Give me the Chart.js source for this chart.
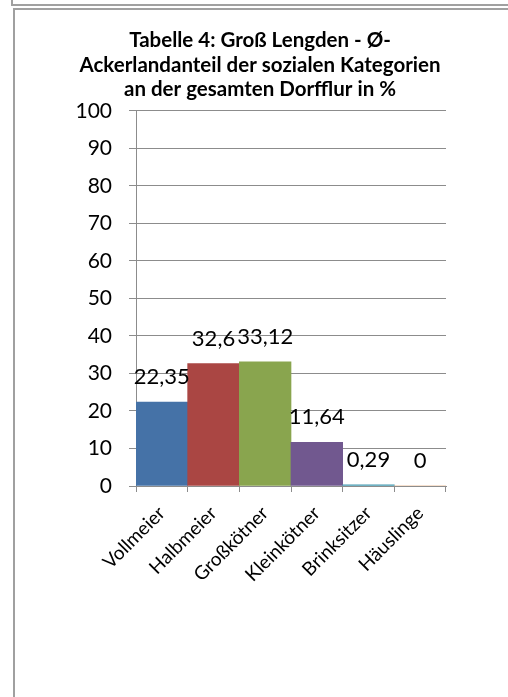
<!DOCTYPE html>
<html lang="de">
<head>
  <meta charset="UTF-8">
  <title>Tabelle 4: Groß Lengden</title>
  <style>
    html, body {
      margin: 0;
      background: #fff;
      overflow: hidden;
      width: 508px;
      height: 697px;
    }
    .frame-top {
      position: absolute;
      left: 11px;
      top: -30px;
      width: 600px;
      height: 36px;
      box-sizing: border-box;
      border: 2px solid #a0a0a0;
    }
    .frame {
      position: absolute;
      left: 13px;
      top: 8px;
      width: 600px;
      height: 800px;
      box-sizing: border-box;
      border: 2px solid #a0a0a0;
    }
    #chart {
      position: absolute;
      left: 0;
      top: 0;
    }
  </style>
  <script src="https://cdn.jsdelivr.net/npm/chart.js"></script>
</head>
<body>
  <div class="frame-top"></div>
  <div class="frame"></div>
  <canvas id="chart" width="508" height="697"></canvas>

  <script>
    // Data
    const categories = ['Vollmeier', 'Halbmeier', 'Großkötner', 'Kleinkötner', 'Brinksitzer', 'Häuslinge'];
    const shares = [22.35, 32.6, 33.12, 11.64, 0.29, 0];
    const barColors = ['#4572A7', '#AA4643', '#89A54E', '#71588F', '#4198AF', '#DB843D'];
    const titleLines = [
      'Tabelle 4: Groß Lengden - Ø-',
      'Ackerlandanteil der sozialen Kategorien',
      'an der gesamten Dorfflur in %'
    ];

    const gridColor = '#8c8c8c';
    const fontFamily = 'Lato, "Open Sans", sans-serif';

    // value labels above bars, German decimal comma
    const valueLabels = {
      id: 'valueLabels',
      afterDatasetsDraw(chart) {
        const ctx = chart.ctx;
        const meta = chart.getDatasetMeta(0);
        ctx.save();
        ctx.font = '22px ' + fontFamily;
        ctx.fillStyle = '#000';
        ctx.textAlign = 'center';
        ctx.textBaseline = 'middle';
        meta.data.forEach((bar, i) => {
          const txt = String(shares[i]).replace('.', ',');
          ctx.fillText(txt, bar.x, bar.y - 25);
        });
        ctx.restore();
      }
    };

    const ctx = document.getElementById('chart').getContext('2d');
    new Chart(ctx, {
      type: 'bar',
      data: {
        labels: categories,
        datasets: [{
          data: shares,
          backgroundColor: barColors,
          borderWidth: 0,
          categoryPercentage: 1,
          barPercentage: 1
        }]
      },
      options: {
        responsive: false,
        animation: false,
        layout: {
          padding: { left: 74, right: 62, top: 0, bottom: 0 }
        },
        plugins: {
          legend: { display: false },
          tooltip: { enabled: false },
          title: {
            display: true,
            text: titleLines,
            color: '#000',
            font: { family: fontFamily, size: 20.5, weight: 'bold', lineHeight: 1.2 },
            padding: { top: 28, bottom: 9 }
          }
        },
        scales: {
          x: {
            grid: {
              display: true,
              drawOnChartArea: false,
              drawTicks: true,
              tickLength: 6,
              color: gridColor,
              offset: true
            },
            border: { display: true, color: gridColor },
            ticks: {
              color: '#000',
              font: { family: fontFamily, size: 19 },
              maxRotation: 45,
              minRotation: 45,
              autoSkip: false,
              padding: 10
            },
            afterFit(scale) {
              scale.height = 211;
            }
          },
          y: {
            min: 0,
            max: 100,
            grid: {
              color: gridColor,
              tickLength: 7,
              drawTicks: true
            },
            border: { display: true, color: gridColor },
            ticks: {
              stepSize: 10,
              color: '#000',
              font: { family: fontFamily, size: 21 },
              padding: 17
            },
            afterFit(scale) {
              scale.width = 62;
            }
          }
        }
      },
      plugins: [valueLabels]
    });
  </script>
</body>
</html>
